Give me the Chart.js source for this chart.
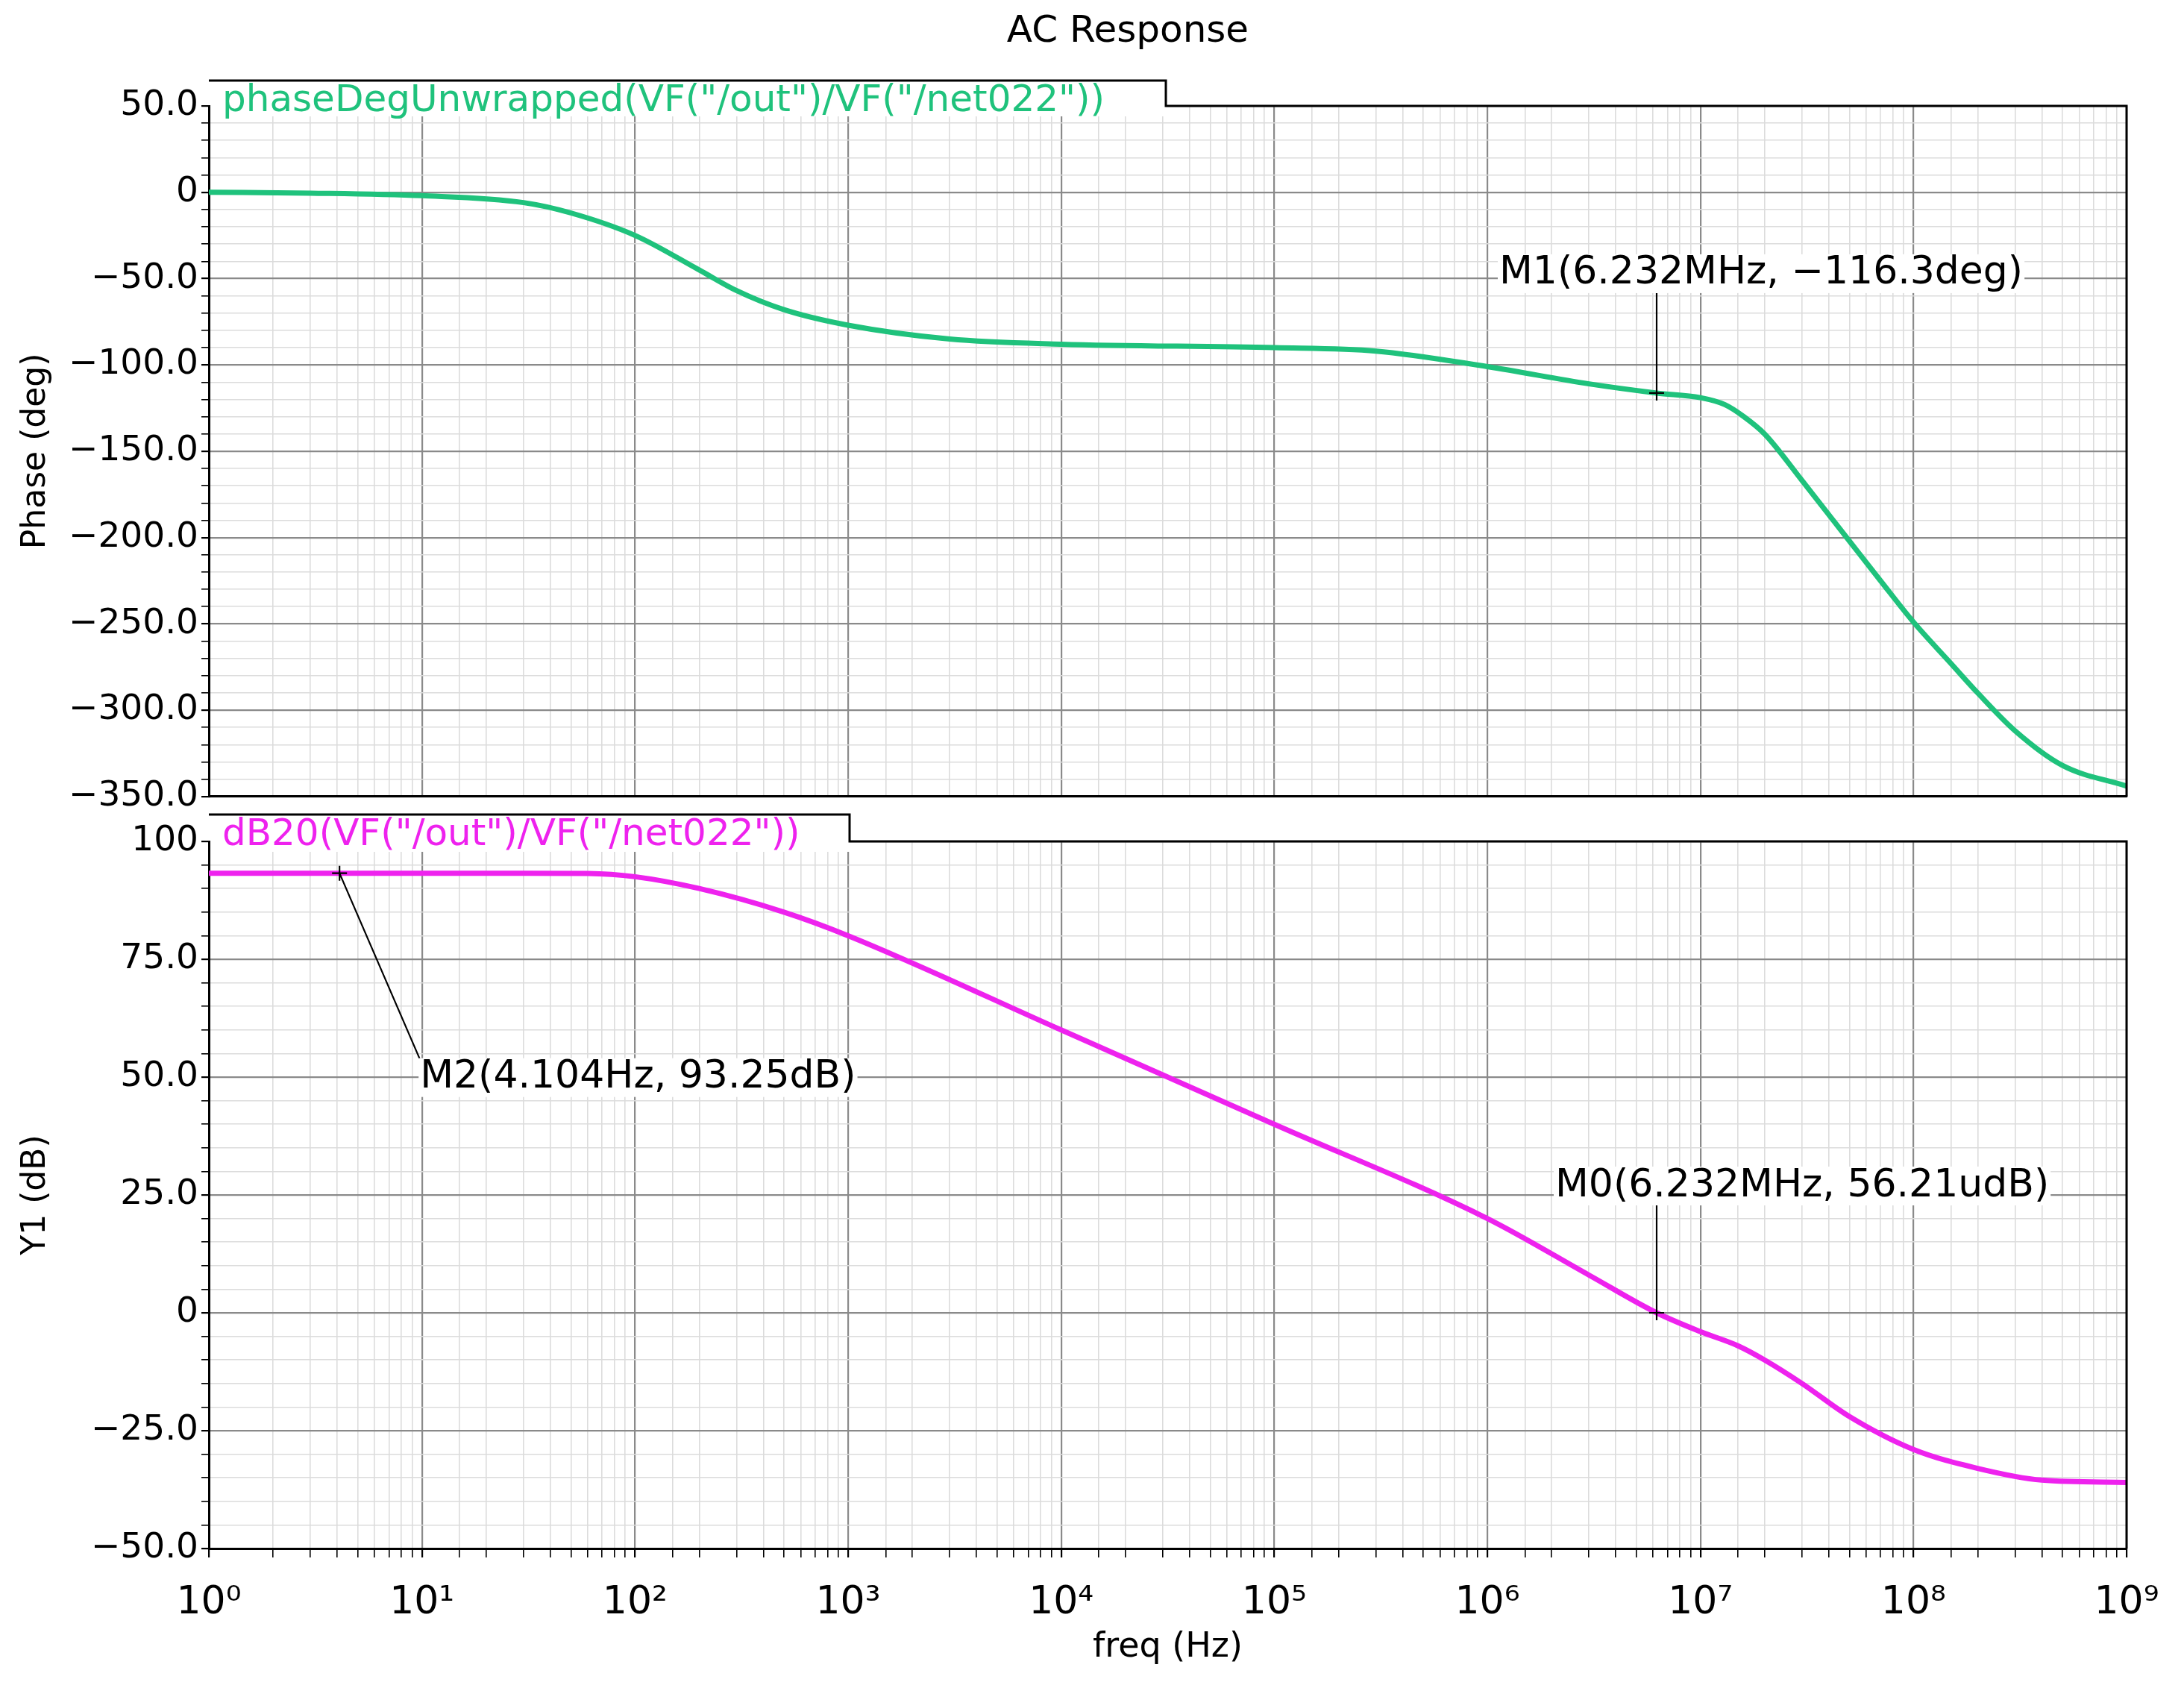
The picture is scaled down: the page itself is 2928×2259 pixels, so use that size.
<!DOCTYPE html>
<html><head><meta charset="utf-8">
<script src="https://cdn.jsdelivr.net/npm/chart.js@4/dist/chart.umd.min.js"></script>
<style>
html,body{margin:0;padding:0;background:#fff;}
#w1{position:absolute;left:0;top:0;width:2928px;height:1100px;}
#w2{position:absolute;left:0;top:1060px;width:2928px;height:1199px;}
</style></head><body>
<div id="w1"><canvas id="c1"></canvas></div>
<div id="w2"><canvas id="c2"></canvas></div>
<script>
const chartTitle = 'AC Response';
const phaseLabel = 'phaseDegUnwrapped(VF("/out")/VF("/net022"))';
const magLabel = 'dB20(VF("/out")/VF("/net022"))';
const phaseFreq = [1, 3, 10, 30, 50, 100, 200, 300, 500, 1000, 3000, 1e4, 1e5, 3e5, 1e6, 3e6, 6.232e6, 1e7, 1.3e7, 1.6e7, 2e7, 3e7, 5e7, 7e7, 1e8, 1.5e8, 2e8, 3e8, 5e8, 1e9];
const phaseDeg  = [0, -0.5, -2, -6, -12, -25, -45, -57, -68, -77, -85, -88, -90, -92, -101, -111, -116.3, -119, -123, -130, -140, -167, -202, -225, -249, -273, -290, -312, -332, -344];
const magFreq = [1, 4.104, 30, 60, 100, 200, 500, 1000, 1e4, 1e5, 1e6, 3e6, 6.232e6, 1e7, 1.5e7, 2e7, 3e7, 5e7, 1e8, 2e8, 4e8, 1e9];
const magDb   = [93.25, 93.25, 93.25, 93.2, 92.5, 90, 85, 80, 60, 40, 20, 8, 0, -4, -7, -10, -15, -22, -29, -33, -35.5, -36];
const markers = [
  {chart:1, x:6.232e6, y:-116.3, text:'M1(6.232MHz, \u2212116.3deg)', dx:-211, dy:-160, line:'v'},
  {chart:2, x:6.232e6, y:0, text:'M0(6.232MHz, 56.21udB)', dx:-136, dy:-170, line:'v'},
  {chart:2, x:4.104, y:93.25, text:'M2(4.104Hz, 93.25dB)', dx:108, dy:274, line:'d'}
];
const GREEN = '#1fc27c', MAG = '#ee22ee';
const FONT = 'DejaVu Sans';
const sup = {'0':'\u2070','1':'\u00b9','2':'\u00b2','3':'\u00b3','4':'\u2074','5':'\u2075','6':'\u2076','7':'\u2077','8':'\u2078','9':'\u2079'};
const isMajorX = v => Math.abs(Math.log10(v) - Math.round(Math.log10(v))) < 1e-9;
const fmtY = v => v === 0 ? '0' : (v === 100 ? '100' : v.toFixed(1).replace('-', '\u2212'));

function xScale(showLabels){
  return {
    type:'logarithmic', min:1, max:1e9,
    ticks:{display:showLabels, autoSkip:false, maxRotation:0, color:'#000', padding:30,
      font:{family:FONT,size:52},
      callback:(v)=> isMajorX(v) ? '10' + sup[String(Math.round(Math.log10(v)))] : ''},
    grid:{drawTicks:showLabels, tickLength:12,
      color:c=> (c.tick && isMajorX(c.tick.value)) ? '#8a8a8a' : '#dcdcdc',
      lineWidth:c=> (c.tick && isMajorX(c.tick.value)) ? 2.2 : 1.6,
      tickColor:'#000'},
    border:{display:true,color:'#000',width:3},
    title:{display:showLabels, text:'freq (Hz)', color:'#000', font:{family:FONT,size:46}, padding:{top:4,bottom:22}},
    afterFit:s=>{ s.height = showLabels ? 183 : 0; }
  };
}
function yScale(min,max,step,labelEvery,title){
  return {
    min, max,
    ticks:{stepSize:step, autoSkip:false, color:'#000', padding:4, font:{family:FONT,size:47},
      callback:(v)=> (Math.abs(v % labelEvery) < 1e-9) ? fmtY(v) : ''},
    grid:{tickLength:10,
      color:c=> (c.tick && Math.abs(c.tick.value % labelEvery)<1e-9) ? '#8a8a8a' : '#dcdcdc',
      lineWidth:c=> (c.tick && Math.abs(c.tick.value % labelEvery)<1e-9) ? 2.2 : 1.6,
      tickColor:'#000'},
    border:{display:true,color:'#000',width:3},
    title:{display:true, text:title, color:'#000', font:{family:FONT,size:44}, padding:{top:22,bottom:10}},
    afterFit:s=>{ s.width = 280; }
  };
}
function decor(tabTopOffset, tabRight, label, color, drawTitle){
  return {
    id:'decor'+label.length,
    afterDraw(chart){
      const ctx = chart.ctx, a = chart.chartArea;
      ctx.save();
      const tabTop = a.top - tabTopOffset;
      ctx.fillStyle = '#fff';
      ctx.fillRect(a.left+2, tabTop, tabRight - a.left - 2, tabTopOffset + 14);
      ctx.strokeStyle = '#000'; ctx.lineWidth = 3;
      ctx.beginPath();
      ctx.moveTo(a.left, tabTop); ctx.lineTo(tabRight, tabTop); ctx.lineTo(tabRight, a.top);
      ctx.lineTo(a.right, a.top); ctx.lineTo(a.right, a.bottom);
      ctx.stroke();
      ctx.fillStyle = color; ctx.font = '50px "' + FONT + '"';
      ctx.textBaseline = 'middle'; ctx.textAlign = 'left';
      ctx.fillText(label, a.left + 18, tabTop + 28);
      if (drawTitle){
        ctx.fillStyle = '#000'; ctx.font = '50px "' + FONT + '"'; ctx.textAlign='center';
        ctx.fillText(chartTitle, 1512, 43);
      }
      const idx = chart.canvas.id === 'c1' ? 1 : 2;
      markers.filter(m=>m.chart===idx).forEach(m=>{
        const px = chart.scales.x.getPixelForValue(m.x), py = chart.scales.y.getPixelForValue(m.y);
        ctx.font = '52px "' + FONT + '"'; ctx.textAlign='left'; ctx.textBaseline='middle';
        const tw = ctx.measureText(m.text).width;
        const lx = px + m.dx, ly = py + m.dy;
        ctx.strokeStyle = '#000'; ctx.lineWidth = 2.2;
        ctx.beginPath();
        if (m.line === 'v'){ ctx.moveTo(px, py); ctx.lineTo(px, ly + 26); }
        else { ctx.moveTo(px, py); ctx.lineTo(lx, ly - 24); }
        ctx.moveTo(px-10, py); ctx.lineTo(px+10, py);
        ctx.moveTo(px, py-10); ctx.lineTo(px, py+10);
        ctx.stroke();
        ctx.fillStyle = '#fff'; ctx.fillRect(lx-2, ly-26, tw+4, 52);
        ctx.fillStyle = '#000'; ctx.fillText(m.text, lx, ly);
      });
      ctx.restore();
    }
  };
}
const common = {responsive:true, maintainAspectRatio:false, animation:false, devicePixelRatio:1,
  plugins:{legend:{display:false}, tooltip:{enabled:false}}};

new Chart(document.getElementById('c1'), {
  type:'line',
  data:{datasets:[{data:phaseFreq.map((f,i)=>({x:f,y:phaseDeg[i]})), borderColor:GREEN, borderWidth:7,
    pointRadius:0, cubicInterpolationMode:'monotone', fill:false}]},
  options:Object.assign({}, common, {
    layout:{padding:{top:142,right:77,bottom:8,left:0}},
    scales:{x:xScale(false), y:yScale(-350,50,10,50,'Phase (deg)')}
  }),
  plugins:[decor(34, 1563, phaseLabel, GREEN, true)]
});
new Chart(document.getElementById('c2'), {
  type:'line',
  data:{datasets:[{data:magFreq.map((f,i)=>({x:f,y:magDb[i]})), borderColor:MAG, borderWidth:7,
    pointRadius:0, cubicInterpolationMode:'monotone', fill:false}]},
  options:Object.assign({}, common, {
    layout:{padding:{top:68,right:77,bottom:0,left:0}},
    scales:{x:xScale(true), y:yScale(-50,100,5,25,'Y1 (dB)')}
  }),
  plugins:[decor(36, 1139, magLabel, MAG, false)]
});
</script></body></html>
